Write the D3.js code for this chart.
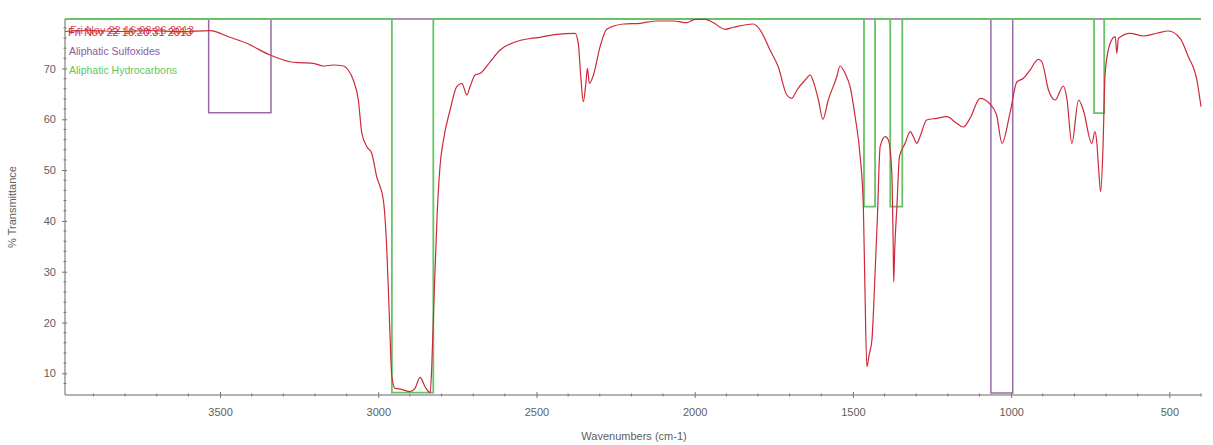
<!DOCTYPE html>
<html><head><meta charset="utf-8">
<script src="https://cdn.jsdelivr.net/npm/d3@7"></script>
<style>body{margin:0;background:#fff}svg{display:block}text{font-family:"Liberation Sans",Arial,sans-serif}</style>
</head><body><svg id="c" width="1213" height="445"></svg>
<script>
// Spectrum: wavenumber (cm-1) and % transmittance
const wavenumbers = [3990,3911,3816,3721,3627,3532,3469,3416,3342,3279,3247,3205,3174,3142,3110,3095,3079,3063,3052,3036,3021,3005,2984,2973,2965,2957,2947,2926,2900,2884,2868,2852,2836,2831,2824,2814,2805,2794,2773,2752,2736,2720,2710,2694,2678,2647,2615,2568,2520,2489,2436,2378,2368,2360,2352,2344,2339,2333,2320,2299,2278,2225,2173,2120,2067,2025,1999,1967,1941,1904,1878,1815,1793,1762,1736,1709,1693,1677,1651,1635,1625,1609,1595,1578,1551,1541,1525,1509,1493,1477,1467,1462,1456,1449,1440,1430,1423,1414,1398,1388,1377,1373,1371,1368,1361,1353,1335,1319,1309,1298,1288,1267,1235,1203,1172,1151,1130,1098,1067,1046,1029,1003,982,961,940,914,903,882,861,835,824,808,787,772,745,735,729,724,717,710,703,687,671,666,661,624,582,540,503,466,440,413,400];
const transmittance = [77.28,77.48,77.28,77.48,77.24,77.44,76.14,74.96,72.65,71.33,71.14,71.02,70.49,70.69,70.49,69.70,67.73,63.80,57.30,54.60,53.36,48.70,44.11,34.27,21.14,9.33,7.04,6.85,6.38,7.04,9.21,7.36,6.18,11.29,24.42,41.16,50.67,55.92,61.83,66.41,67.08,64.78,66.41,68.72,69.05,71.27,73.64,75.21,75.90,76.14,76.73,76.93,74.96,68.38,63.46,67.08,70.04,67.08,68.72,74.29,77.71,78.76,78.89,79.35,79.35,79.01,79.68,79.68,79.01,77.71,78.11,78.76,77.57,73.64,70.35,64.78,64.13,65.76,67.73,68.72,67.41,63.80,60.00,63.80,68.38,70.49,69.05,66.41,60.51,52.63,42.79,26.39,11.29,13.60,16.55,29.74,40.17,54.60,56.57,55.92,49.37,36.24,27.97,34.27,42.79,52.63,55.27,57.56,56.57,55.27,56.57,59.86,60.19,60.51,59.21,58.48,60.19,64.13,63.01,60.84,55.27,61.43,67.34,68.07,69.70,71.81,71.33,65.76,63.80,66.55,64.13,55.27,63.80,61.83,55.27,57.56,55.27,50.67,45.74,53.95,69.05,74.96,76.26,72.99,75.94,76.93,76.39,76.93,77.38,75.94,72.32,67.73,62.48];

// Library match bands (top baseline with rectangular dips)
const sulfoxideBands = [[3536,3339,61.3],[1064,995,6.1]];
const hydrocarbonBands = [[2957,2826,6.2],[1465,1430,42.8],[1382,1344,42.8],[738,706,61.2]];

const xMajorTicks = [3500,3000,2500,2000,1500,1000,500];
const yMajorTicks = [10,20,30,40,50,60,70];
const legendLabels = ["Fri Nov 22 16:20:31 2013","Aliphatic Sulfoxides","Aliphatic Hydrocarbons"];

const svg = d3.select("#c");
const L=65,R=1201,T=19,B=395;
const x = d3.scaleLinear().domain([3990,400]).range([L,R]);
const y = d3.scaleLinear().domain([5.73,79.74]).range([B,T]);
const axisColor="#9a9a9a", textColor="#5e5e5e";

// axes lines
svg.append("line").attr("x1",L).attr("x2",R).attr("y1",B).attr("y2",B).attr("stroke",axisColor).attr("stroke-width",1.5);
svg.append("line").attr("x1",L).attr("x2",L).attr("y1",T).attr("y2",B).attr("stroke",axisColor).attr("stroke-width",1.5);

// x axis
const xMinor = d3.range(3900,399,-100).filter(v=>!xMajorTicks.includes(v));
const gx = svg.append("g").attr("transform",`translate(0,${B-3})`)
  .call(d3.axisBottom(x).tickValues(xMajorTicks).tickSize(6).tickPadding(10).tickFormat(d3.format("d")));
gx.select(".domain").remove();
gx.selectAll("line").attr("stroke","#777");
gx.selectAll("text").attr("fill",textColor).style("font-size","11px");
svg.append("g").selectAll("line").data(xMinor).join("line")
  .attr("x1",d=>x(d)).attr("x2",d=>x(d)).attr("y1",B-1.5).attr("y2",B+1.5).attr("stroke","#777");

// y axis
const yMinor = d3.range(8,80,2).filter(v=>!yMajorTicks.includes(v));
const gy = svg.append("g").attr("transform",`translate(${L+2},0)`)
  .call(d3.axisLeft(y).tickValues(yMajorTicks).tickSize(5).tickPadding(6));
gy.select(".domain").remove();
gy.selectAll("line").attr("stroke","#777");
gy.selectAll("text").attr("fill",textColor).style("font-size","11px");
svg.append("g").selectAll("line").data(yMinor).join("line")
  .attr("x1",L-1.5).attr("x2",L+1.5).attr("y1",d=>y(d)).attr("y2",d=>y(d)).attr("stroke","#777");

// axis titles
svg.append("text").attr("x",634).attr("y",440).attr("text-anchor","middle").attr("fill",textColor).style("font-size","11px").text("Wavenumbers (cm-1)");
svg.append("text").attr("transform","translate(16,207) rotate(-90)").attr("text-anchor","middle").attr("fill",textColor).style("font-size","11px").text("% Transmittance");

// band step lines
function bandPoints(bands){
  const top = y.domain()[1];
  const pts=[[x.domain()[0],top]];
  bands.forEach(([a,b,v])=>{pts.push([a,top],[a,v],[b,v],[b,top]);});
  pts.push([x.domain()[1],top]);
  return pts;
}
const line = d3.line().x(d=>x(d[0])).y(d=>y(d[1]));
svg.append("path").attr("d",line(bandPoints(sulfoxideBands))).attr("fill","none").attr("stroke","#9a6aa8").attr("stroke-width",1.5);
svg.append("path").attr("d",line(bandPoints(hydrocarbonBands))).attr("fill","none").attr("stroke","#66c466").attr("stroke-width",1.8);

// legend
svg.append("text").attr("x",68).attr("y",36).attr("fill","#cc2a3a").style("font-size","11px").text(legendLabels[0]);
svg.append("text").attr("x",70).attr("y",34).attr("fill","#cc2a3a").attr("opacity",0.8).style("font-size","11px").text("Fri Nov 22 16:08:26 2013");
svg.append("text").attr("x",69).attr("y",55).attr("fill","#8a5a9c").style("font-size","10.5px").text(legendLabels[1]);
svg.append("text").attr("x",69).attr("y",74).attr("fill","#5cc85c").style("font-size","10.5px").text(legendLabels[2]);

// spectrum
const spec = wavenumbers.map((w,i)=>[w,transmittance[i]]);
const specLine = d3.line().x(d=>x(d[0])).y(d=>y(d[1])).curve(d3.curveMonotoneX);
svg.append("path").attr("d",specLine(spec)).attr("fill","none").attr("stroke","#cc2a3a").attr("stroke-width",1.2);
</script></body></html>
